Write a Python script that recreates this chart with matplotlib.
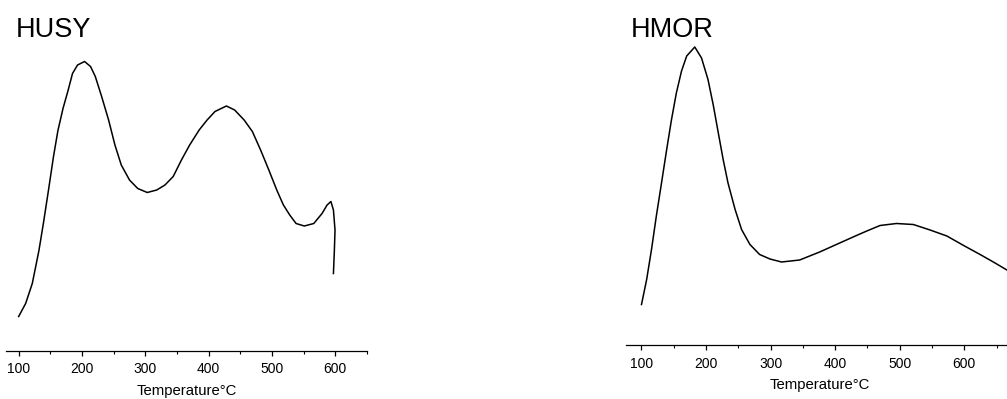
import matplotlib.pyplot as plt

plt.rcParams['font.family'] = ['Liberation Sans', 'DejaVu Sans']

# HUSY TPD trace (temperature in C, signal in a.u.)
husy_temp = [100, 111, 121.5, 132, 139, 147, 155, 162, 170, 178, 185, 193,
             204, 213.5, 221, 231, 242, 252, 262, 275, 288, 303, 318, 331,
             344, 357, 370, 385, 397.5, 410, 428, 441, 456, 469, 482, 495,
             507.5, 518, 528, 538, 551, 566, 579, 587, 593, 597, 599.5,
             598.5, 597]
husy_signal = [34, 47, 67, 100, 127, 160, 194, 220, 242, 260, 277, 285.5,
               289, 284, 274, 254, 230.5, 205.5, 185.5, 170.5, 162, 158,
               160.5, 165.5, 174, 190.5, 205.5, 220.5, 230.5, 239, 244.5,
               240.5, 230.5, 219, 200.5, 180.5, 160.5, 145.5, 135.5, 127,
               124.5, 127, 137, 145.5, 149, 140.5, 120.5, 100.5, 77]

# HMOR TPD trace
hmor_temp = [100, 108, 115.5, 123, 131, 139, 146.5, 154, 162, 170, 182.5,
             193, 203, 211, 219, 226.5, 234, 245, 255, 268, 283, 299, 317,
             345, 376, 407, 433, 449, 469.5, 495, 521, 547, 573, 599, 624.5,
             645, 666]
hmor_signal = [40.5, 65.5, 95.5, 129, 162, 195.5, 225.5, 252, 274, 289, 298,
               287, 265.5, 240.5, 212, 185.5, 162, 135.5, 115.5, 100.5, 90.5,
               86, 83, 85, 93, 102, 109.5, 114, 119.5, 121.5, 120.5, 115,
               109, 99.5, 90.5, 83, 75]

fig = plt.figure(figsize=(10.07, 3.99), dpi=100)

ax1 = fig.add_axes([6 / 1007, 48.5 / 399, 361 / 1007, 340 / 399])
ax2 = fig.add_axes([626 / 1007, 54 / 399, 388 / 1007, 335 / 399])

panels = [(ax1, husy_temp, husy_signal, (80, 633), 340),
          (ax2, hmor_temp, hmor_signal, (76, 677), 335)]

for ax, t, s, xlim, top in panels:
    ax.plot(t, s, color='black', lw=1.1)
    ax.set_xlim(*xlim)
    ax.set_ylim(0, top)
    for side in ['left', 'right', 'top']:
        ax.spines[side].set_visible(False)
    ax.spines['bottom'].set_linewidth(0.9)
    ax.set_yticks([])
    ax.set_xticks([100, 200, 300, 400, 500, 600])
    ax.set_xticks([150, 250, 350, 450, 550, 650], minor=True)
    ax.tick_params(axis='x', which='major', direction='out', length=3.8,
                   width=0.9, labelsize=10, pad=4.5)
    ax.tick_params(axis='x', which='minor', direction='out', length=1.8,
                   width=0.8)
    ax.set_xlabel('Temperature°C', fontsize=10.7, labelpad=5.5)
    ax.patch.set_alpha(0)

fig.text(16 / 1007, 1 - 37.3 / 399, 'HUSY', fontsize=19.5, va='baseline')
fig.text(630.7 / 1007, 1 - 37.3 / 399, 'HMOR', fontsize=19.5, va='baseline')

fig.savefig('out.png', dpi=100)
